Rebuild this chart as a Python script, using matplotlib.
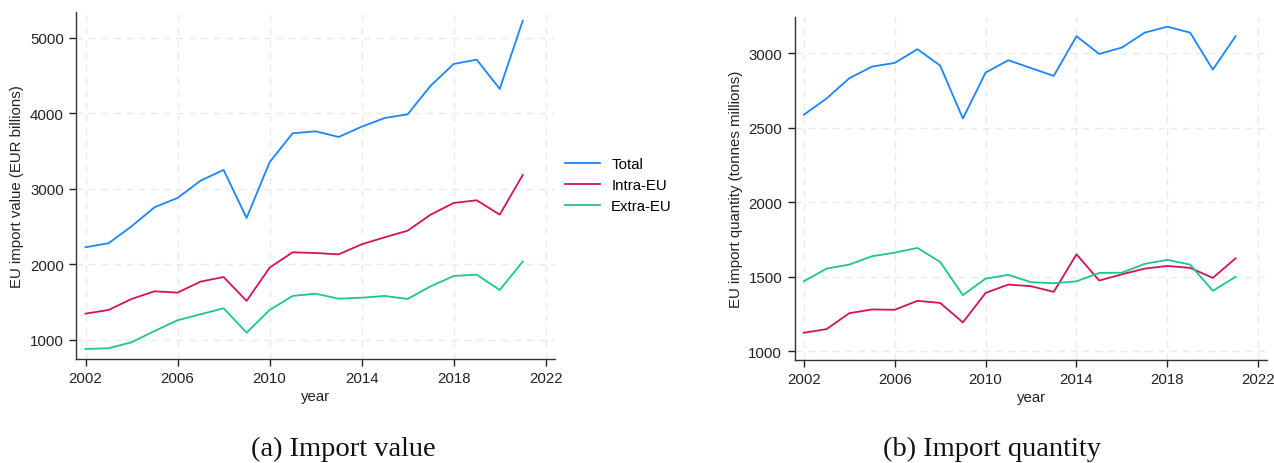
import matplotlib.pyplot as plt

plt.rcParams["font.family"] = ["Liberation Sans", "DejaVu Sans"]

years = list(range(2002, 2022))

# import value, EUR billions
value_total = [2228, 2281, 2505, 2758, 2881, 3110, 3252, 2616, 3354, 3738,
               3764, 3689, 3825, 3940, 3989, 4368, 4656, 4713, 4325, 5229]
value_intra = [1349, 1397, 1543, 1645, 1627, 1773, 1834, 1517, 1958, 2161,
               2152, 2134, 2267, 2360, 2448, 2660, 2815, 2850, 2660, 3185]
value_extra = [881, 890, 969, 1119, 1261, 1340, 1420, 1097, 1397, 1583,
               1613, 1547, 1560, 1583, 1543, 1711, 1848, 1865, 1662, 2038]

# import quantity, tonnes millions
qty_total = [2587, 2696, 2832, 2910, 2935, 3027, 2917, 2562, 2870, 2953,
             2900, 2848, 3114, 2995, 3038, 3138, 3178, 3138, 2890, 3114]
qty_intra = [1125, 1149, 1256, 1281, 1279, 1339, 1325, 1194, 1392, 1448,
             1437, 1399, 1651, 1475, 1517, 1555, 1573, 1560, 1493, 1624]
qty_extra = [1470, 1555, 1582, 1638, 1662, 1694, 1600, 1377, 1488, 1513,
             1464, 1457, 1470, 1526, 1528, 1587, 1614, 1582, 1406, 1500]

labels = ["Total", "Intra-EU", "Extra-EU"]
colors = ["#1a85ff", "#d41159", "#1fc68a"]
year_ticks = [2002, 2006, 2010, 2014, 2018, 2022]


def style_axis(ax, yticks):
    for side in ["top", "right"]:
        ax.spines[side].set_visible(False)
    for side in ["left", "bottom"]:
        ax.spines[side].set_color("#333333")
        ax.spines[side].set_linewidth(1.0)
    ax.set_xticks(year_ticks)
    ax.set_yticks(yticks)
    ax.set_xlim(2001.6, 2022.4)
    ax.grid(True, color="#e9e9e9", linestyle=(0, (5, 4)), linewidth=1.0)
    ax.set_axisbelow(True)
    ax.tick_params(labelsize=10.8, colors="#222222", length=5, width=1.0,
                   pad=4)
    ax.set_xlabel("year", fontsize=10.8, color="#222222", labelpad=3)


fig = plt.figure(figsize=(12.74, 4.64), dpi=100)

ax1 = fig.add_axes([0.0599, 0.2248, 0.3757, 0.7478])
for series, label, color in zip([value_total, value_intra, value_extra], labels, colors):
    ax1.plot(years, series, color=color, linewidth=1.3, label=label)
style_axis(ax1, [1000, 2000, 3000, 4000, 5000])
ax1.set_ylim(752, 5348)
ax1.set_ylabel("EU import value (EUR billions)", fontsize=10.8, color="#222222")
ax1.legend(loc="center left", bbox_to_anchor=(1.022, 0.5), frameon=False,
           fontsize=10.8, handlelength=2.3, handletextpad=0.75,
           labelspacing=0.48, borderpad=0, borderaxespad=0)

ax2 = fig.add_axes([0.6238, 0.2226, 0.371, 0.738])
for series, color in zip([qty_total, qty_intra, qty_extra], colors):
    ax2.plot(years, series, color=color, linewidth=1.3)
style_axis(ax2, [1000, 1500, 2000, 2500, 3000])
ax2.set_ylim(944, 3241)
ax2.set_ylabel("EU import quantity (tonnes millions)", fontsize=10.8, color="#222222")

fig.text(343 / 1274, 1 - 449 / 464, "(a) Import value", ha="center", va="center",
         fontsize=20.5, family="Liberation Serif", color="#111111")
fig.text(992 / 1274, 1 - 449 / 464, "(b) Import quantity", ha="center", va="center",
         fontsize=20.5, family="Liberation Serif", color="#111111")

fig.savefig("out.png", dpi=100)
